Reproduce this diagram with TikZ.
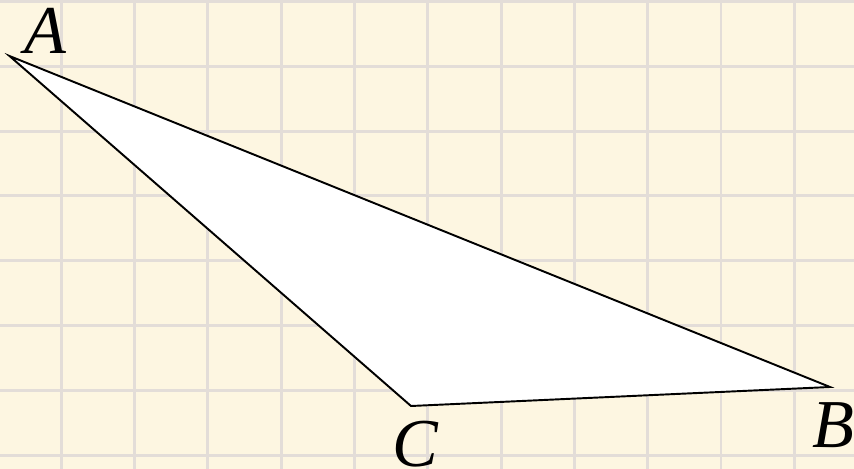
\documentclass[tikz,border=0pt]{standalone}
\usepackage{fontspec}
\setmainfont{Liberation Serif}
\usepackage{xcolor}
\usepackage{tikz}
\definecolor{paperBg}{HTML}{FDF6E1}
\definecolor{gridLn}{HTML}{E3DDD8}
\begin{document}
\begin{tikzpicture}[x=0.02cm,y=-0.02cm,
  vlabel/.style={font=\fontsize{39}{39}\selectfont\itshape,inner sep=0pt},
  side/.style={draw=black,line width=1.1pt,line join=miter}]
\fill[paperBg] (0,0) rectangle (854,469);
\useasboundingbox (0,0) rectangle (854,469);
% grid
\foreach \k in {0,...,10}
  \draw[gridLn,line width=1.6pt] ({61.3+73.3*\k},0) -- ({61.3+73.3*\k},469);
\foreach \k in {0,...,7}
  \draw[gridLn,line width=1.6pt] (0,{1.5+64.8*\k}) -- (854,{1.5+64.8*\k});
% triangle
\coordinate (A) at (9.5,56);
\coordinate (B) at (830,387);
\coordinate (C) at (411,406);
\filldraw[side,fill=white] (A) -- (B) -- (C) -- cycle;
\node[vlabel] (lA) at (45,31) {A};
\node[vlabel] (lB) at (833,425) {B};
\node[vlabel] (lC) at (415,444) {C};
\end{tikzpicture}
\end{document}
